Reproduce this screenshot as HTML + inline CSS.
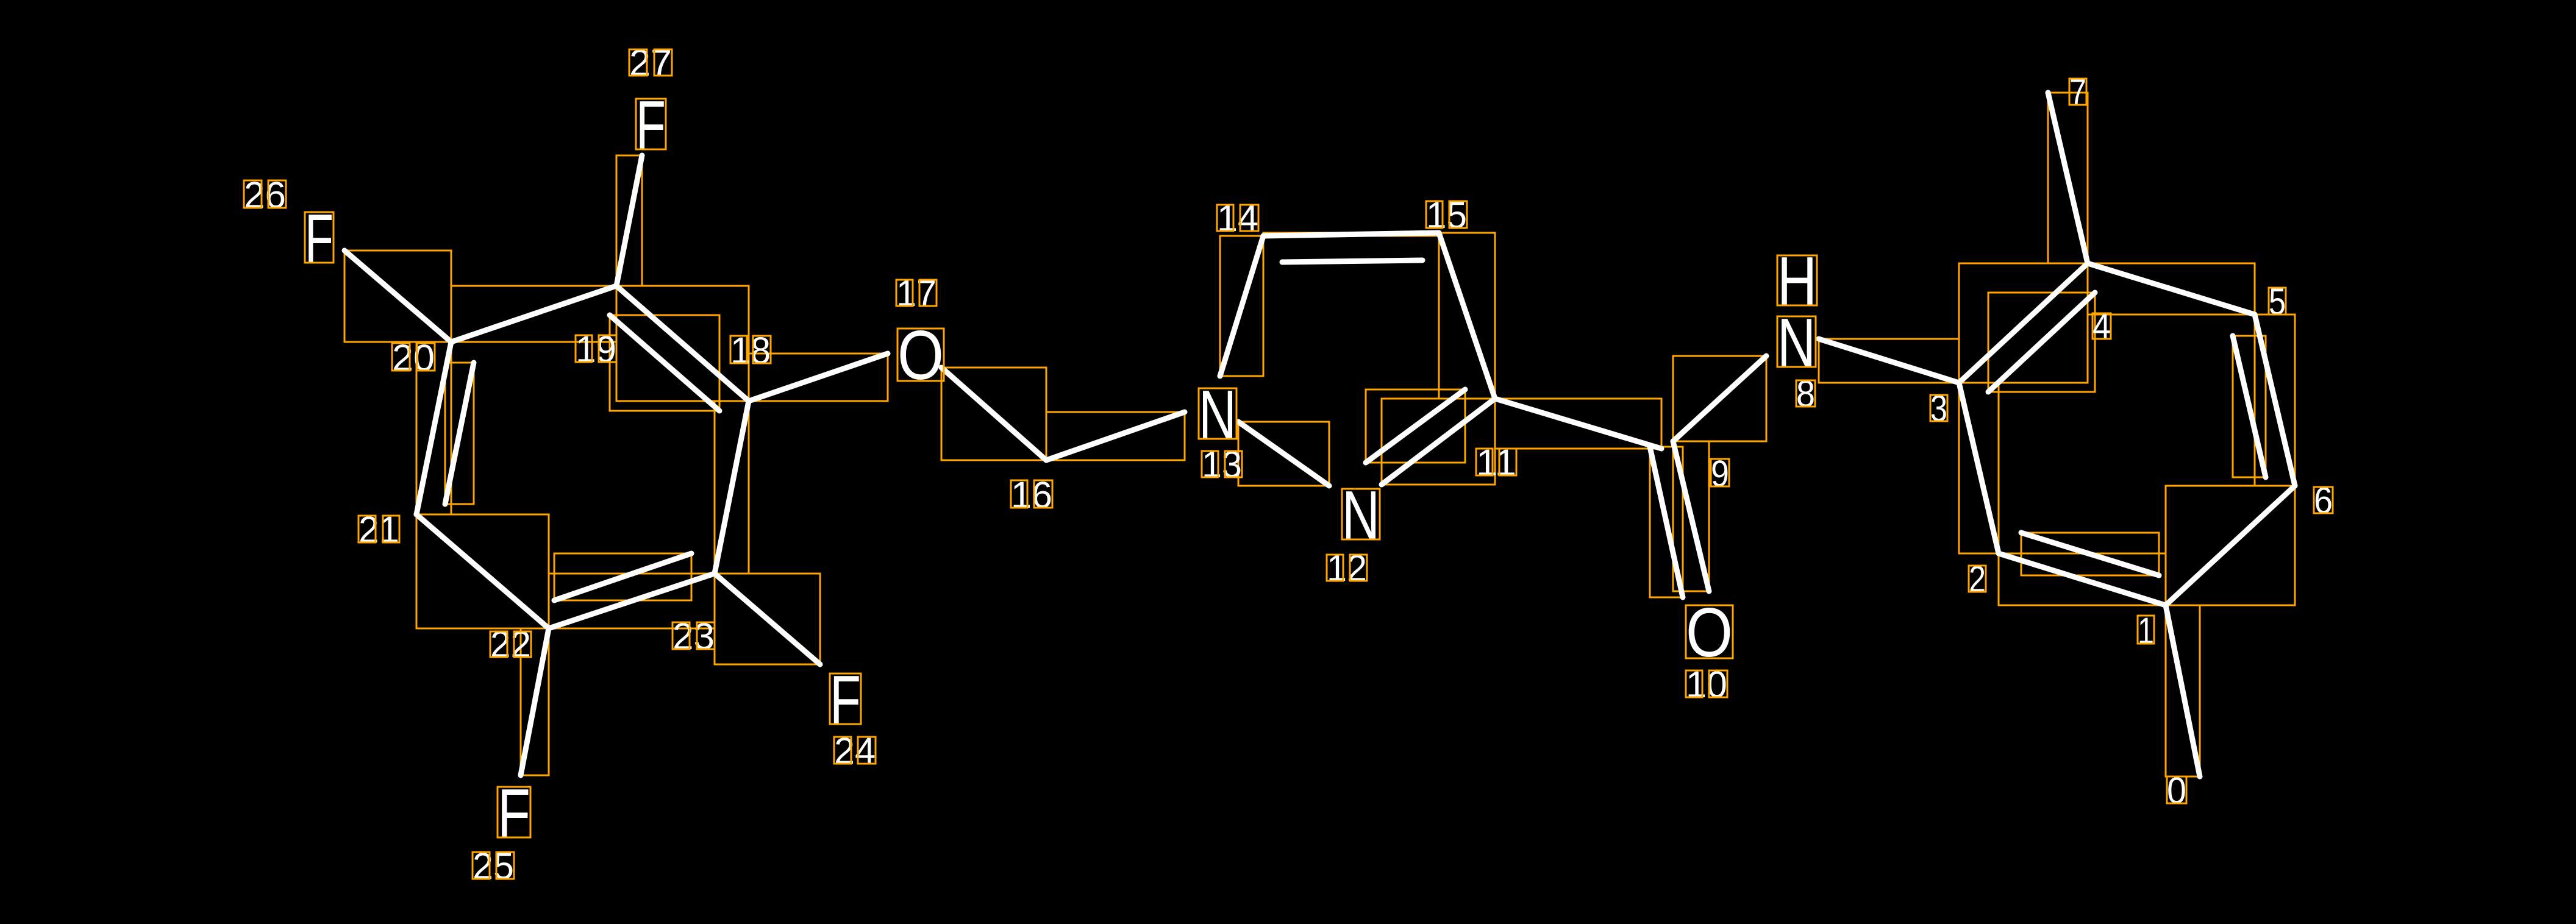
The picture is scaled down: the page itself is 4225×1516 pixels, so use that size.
<!DOCTYPE html>
<html><head><meta charset="utf-8"><style>
html,body{margin:0;padding:0;background:#000;}
svg{display:block}
text{font-family:"Liberation Sans","DejaVu Sans",sans-serif;fill:#fff}
</style></head><body>
<svg width="4225" height="1516" viewBox="0 0 4225 1516" xmlns="http://www.w3.org/2000/svg">
<rect width="4225" height="1516" fill="#000"/>
<g fill="none" stroke="#FFA500" stroke-width="3">
<rect x="565" y="411" width="175" height="150"/>
<rect x="740" y="469" width="271" height="92"/>
<rect x="1011" y="255" width="42" height="214"/>
<rect x="1011" y="469" width="217" height="189"/>
<rect x="1000" y="517" width="180" height="157"/>
<rect x="1228" y="580" width="228" height="78"/>
<rect x="683" y="561" width="57" height="283"/>
<rect x="730" y="595" width="47" height="232"/>
<rect x="683" y="844" width="217" height="187"/>
<rect x="900" y="941" width="272" height="90"/>
<rect x="909" y="908" width="225" height="77"/>
<rect x="1172" y="658" width="56" height="283"/>
<rect x="1172" y="941" width="173" height="149"/>
<rect x="854" y="1031" width="46" height="241"/>
<rect x="1544" y="603" width="172" height="152"/>
<rect x="1716" y="676" width="227" height="79"/>
<rect x="2031" y="692" width="149" height="105"/>
<rect x="2266" y="654" width="186" height="141"/>
<rect x="2240" y="639" width="163" height="120"/>
<rect x="2001" y="387" width="71" height="230"/>
<rect x="2072" y="382" width="288" height="5"/>
<rect x="2103" y="427" width="230" height="3"/>
<rect x="2360" y="382" width="92" height="272"/>
<rect x="2452" y="654" width="273" height="82"/>
<rect x="2706" y="733" width="54" height="247"/>
<rect x="2744" y="724" width="59" height="246"/>
<rect x="2744" y="584" width="153" height="140"/>
<rect x="2983" y="556" width="230" height="72"/>
<rect x="3213" y="432" width="211" height="196"/>
<rect x="3261" y="480" width="175" height="163"/>
<rect x="3359" y="152" width="65" height="280"/>
<rect x="3424" y="432" width="274" height="84"/>
<rect x="3698" y="516" width="66" height="281"/>
<rect x="3662" y="551" width="54" height="232"/>
<rect x="3552" y="797" width="212" height="196"/>
<rect x="3278" y="908" width="274" height="85"/>
<rect x="3315" y="874" width="226" height="70"/>
<rect x="3213" y="628" width="65" height="280"/>
<rect x="3552" y="993" width="56" height="281"/>
</g>
<g stroke="#fff" stroke-width="9" stroke-linecap="round">
<line x1="565" y1="411" x2="740" y2="561"/>
<line x1="740" y1="561" x2="1011" y2="469"/>
<line x1="1011" y1="469" x2="1053" y2="255"/>
<line x1="1011" y1="469" x2="1228" y2="658"/>
<line x1="1000" y1="517" x2="1180" y2="674"/>
<line x1="1228" y1="658" x2="1456" y2="580"/>
<line x1="740" y1="561" x2="683" y2="844"/>
<line x1="777" y1="595" x2="730" y2="827"/>
<line x1="683" y1="844" x2="900" y2="1031"/>
<line x1="900" y1="1031" x2="1172" y2="941"/>
<line x1="909" y1="985" x2="1134" y2="908"/>
<line x1="1172" y1="941" x2="1228" y2="658"/>
<line x1="1172" y1="941" x2="1345" y2="1090"/>
<line x1="900" y1="1031" x2="854" y2="1272"/>
<line x1="1544" y1="603" x2="1716" y2="755"/>
<line x1="1716" y1="755" x2="1943" y2="676"/>
<line x1="2031" y1="692" x2="2180" y2="797"/>
<line x1="2266" y1="795" x2="2452" y2="654"/>
<line x1="2240" y1="759" x2="2403" y2="639"/>
<line x1="2072" y1="387" x2="2001" y2="617"/>
<line x1="2072" y1="387" x2="2360" y2="382"/>
<line x1="2103" y1="430" x2="2333" y2="427"/>
<line x1="2360" y1="382" x2="2452" y2="654"/>
<line x1="2452" y1="654" x2="2725" y2="736"/>
<line x1="2706" y1="733" x2="2760" y2="980"/>
<line x1="2744" y1="724" x2="2803" y2="970"/>
<line x1="2744" y1="724" x2="2897" y2="584"/>
<line x1="2983" y1="556" x2="3213" y2="628"/>
<line x1="3213" y1="628" x2="3424" y2="432"/>
<line x1="3261" y1="643" x2="3436" y2="480"/>
<line x1="3424" y1="432" x2="3359" y2="152"/>
<line x1="3424" y1="432" x2="3698" y2="516"/>
<line x1="3698" y1="516" x2="3764" y2="797"/>
<line x1="3662" y1="551" x2="3716" y2="783"/>
<line x1="3764" y1="797" x2="3552" y2="993"/>
<line x1="3552" y1="993" x2="3278" y2="908"/>
<line x1="3315" y1="874" x2="3541" y2="944"/>
<line x1="3278" y1="908" x2="3213" y2="628"/>
<line x1="3552" y1="993" x2="3608" y2="1274"/>
</g>
<g font-size="114">
<text x="500" y="431" textLength="47" lengthAdjust="spacingAndGlyphs">F</text>
<text x="1043" y="245" textLength="49" lengthAdjust="spacingAndGlyphs">F</text>
<text x="1361" y="1188" textLength="51" lengthAdjust="spacingAndGlyphs">F</text>
<text x="816" y="1374" textLength="54" lengthAdjust="spacingAndGlyphs">F</text>
<text x="1472" y="622" textLength="76" lengthAdjust="spacingAndGlyphs">O</text>
<text x="1966" y="720" textLength="62" lengthAdjust="spacingAndGlyphs">N</text>
<text x="2201" y="885" textLength="62" lengthAdjust="spacingAndGlyphs">N</text>
<text x="2765" y="1077" textLength="77" lengthAdjust="spacingAndGlyphs">O</text>
<text x="2915" y="501" textLength="65" lengthAdjust="spacingAndGlyphs">H</text>
<text x="2915" y="602" textLength="63" lengthAdjust="spacingAndGlyphs">N</text>
</g>
<g fill="none" stroke="#FFA500" stroke-width="3">
<rect x="500" y="348" width="47" height="83"/>
<rect x="1043" y="162" width="49" height="83"/>
<rect x="1361" y="1105" width="51" height="83"/>
<rect x="816" y="1291" width="54" height="83"/>
<rect x="1472" y="539" width="76" height="86"/>
<rect x="1966" y="637" width="62" height="83"/>
<rect x="2201" y="802" width="62" height="83"/>
<rect x="2765" y="993" width="77" height="87"/>
<rect x="2915" y="419" width="65" height="82"/>
<rect x="2915" y="519" width="63" height="83"/>
</g>
<g font-size="61">
<text x="1032" y="124" textLength="70" lengthAdjust="spacingAndGlyphs">27</text>
<text x="400" y="341" textLength="69" lengthAdjust="spacingAndGlyphs">26</text>
<text x="643" y="608" textLength="70" lengthAdjust="spacingAndGlyphs">20</text>
<text x="944" y="594" textLength="67" lengthAdjust="spacingAndGlyphs">19</text>
<text x="1198" y="596" textLength="66" lengthAdjust="spacingAndGlyphs">18</text>
<text x="1470" y="502" textLength="66" lengthAdjust="spacingAndGlyphs">17</text>
<text x="588" y="890" textLength="67" lengthAdjust="spacingAndGlyphs">21</text>
<text x="804" y="1078" textLength="67" lengthAdjust="spacingAndGlyphs">22</text>
<text x="1103" y="1065" textLength="69" lengthAdjust="spacingAndGlyphs">23</text>
<text x="1368" y="1253" textLength="68" lengthAdjust="spacingAndGlyphs">24</text>
<text x="775" y="1442" textLength="68" lengthAdjust="spacingAndGlyphs">25</text>
<text x="1658" y="833" textLength="68" lengthAdjust="spacingAndGlyphs">16</text>
<text x="1971" y="783" textLength="66" lengthAdjust="spacingAndGlyphs">13</text>
<text x="1996" y="379" textLength="68" lengthAdjust="spacingAndGlyphs">14</text>
<text x="2339" y="374" textLength="67" lengthAdjust="spacingAndGlyphs">15</text>
<text x="2421" y="780" textLength="66" lengthAdjust="spacingAndGlyphs">11</text>
<text x="2176" y="953" textLength="66" lengthAdjust="spacingAndGlyphs">12</text>
<text x="2806" y="798" textLength="30" lengthAdjust="spacingAndGlyphs">9</text>
<text x="2765" y="1144" textLength="68" lengthAdjust="spacingAndGlyphs">10</text>
<text x="2946" y="667" textLength="31" lengthAdjust="spacingAndGlyphs">8</text>
<text x="3166" y="691" textLength="28" lengthAdjust="spacingAndGlyphs">3</text>
<text x="3229" y="971" textLength="28" lengthAdjust="spacingAndGlyphs">2</text>
<text x="3506" y="1056" textLength="27" lengthAdjust="spacingAndGlyphs">1</text>
<text x="3554" y="1318" textLength="32" lengthAdjust="spacingAndGlyphs">0</text>
<text x="3394" y="172" textLength="28" lengthAdjust="spacingAndGlyphs">7</text>
<text x="3721" y="516" textLength="28" lengthAdjust="spacingAndGlyphs">5</text>
<text x="3432" y="556" textLength="30" lengthAdjust="spacingAndGlyphs">4</text>
<text x="3795" y="842" textLength="31" lengthAdjust="spacingAndGlyphs">6</text>
</g>
<g fill="none" stroke="#FFA500" stroke-width="3">
<rect x="1032" y="81" width="29" height="43"/><rect x="1073" y="81" width="29" height="43"/>
<rect x="400" y="296" width="29" height="45"/><rect x="440" y="296" width="29" height="45"/>
<rect x="643" y="563" width="29" height="45"/><rect x="684" y="563" width="29" height="45"/>
<rect x="944" y="550" width="27" height="44"/><rect x="982" y="550" width="29" height="44"/>
<rect x="1198" y="551" width="27" height="45"/><rect x="1235" y="551" width="29" height="45"/>
<rect x="1470" y="459" width="27" height="43"/><rect x="1508" y="459" width="28" height="43"/>
<rect x="588" y="846" width="28" height="44"/><rect x="628" y="846" width="27" height="44"/>
<rect x="804" y="1036" width="28" height="42"/><rect x="843" y="1036" width="28" height="42"/>
<rect x="1103" y="1021" width="28" height="44"/><rect x="1143" y="1021" width="29" height="44"/>
<rect x="1368" y="1209" width="28" height="44"/><rect x="1407" y="1209" width="29" height="44"/>
<rect x="775" y="1398" width="28" height="44"/><rect x="814" y="1398" width="29" height="44"/>
<rect x="1658" y="788" width="27" height="45"/><rect x="1696" y="788" width="30" height="45"/>
<rect x="1971" y="740" width="27" height="43"/><rect x="2009" y="740" width="28" height="43"/>
<rect x="1996" y="336" width="27" height="43"/><rect x="2034" y="336" width="30" height="43"/>
<rect x="2339" y="330" width="27" height="44"/><rect x="2377" y="330" width="29" height="44"/>
<rect x="2421" y="736" width="27" height="44"/><rect x="2459" y="736" width="28" height="44"/>
<rect x="2176" y="910" width="27" height="43"/><rect x="2214" y="910" width="28" height="43"/>
<rect x="2806" y="753" width="30" height="45"/>
<rect x="2765" y="1100" width="27" height="44"/><rect x="2803" y="1100" width="30" height="44"/>
<rect x="2946" y="624" width="31" height="43"/>
<rect x="3166" y="648" width="28" height="43"/>
<rect x="3229" y="928" width="28" height="43"/>
<rect x="3506" y="1010" width="27" height="46"/>
<rect x="3554" y="1274" width="32" height="44"/>
<rect x="3394" y="129" width="28" height="43"/>
<rect x="3721" y="472" width="28" height="44"/>
<rect x="3432" y="514" width="30" height="42"/>
<rect x="3795" y="799" width="31" height="43"/>
</g>
</svg>
</body></html>
